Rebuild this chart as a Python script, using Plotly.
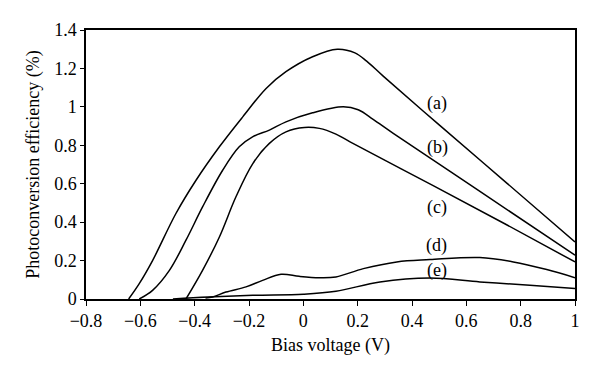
import plotly.graph_objects as go

# Curve data (Bias voltage V, photoconversion efficiency %)
a_x = [-0.643, -0.604, -0.555, -0.469, -0.395, -0.309, -0.223, -0.137, -0.064, 0.034, 0.125, 0.19, 0.233, 0.294, 0.5, 0.75, 1.0]
a_y = [0.0, 0.08, 0.2, 0.445, 0.618, 0.792, 0.948, 1.096, 1.183, 1.261, 1.300, 1.281, 1.238, 1.160, 0.906, 0.602, 0.297]

b_x = [-0.604, -0.555, -0.493, -0.432, -0.371, -0.297, -0.236, -0.187, -0.125, -0.064, 0.034, 0.147, 0.202, 0.257, 0.331, 0.65, 1.0]
b_y = [0.0, 0.045, 0.149, 0.306, 0.479, 0.67, 0.792, 0.844, 0.879, 0.922, 0.969, 1.0, 0.985, 0.935, 0.862, 0.56, 0.228]

c_x = [-0.432, -0.371, -0.309, -0.248, -0.186, -0.125, -0.064, 0.004, 0.059, 0.12, 0.172, 0.478, 0.75, 1.0]
c_y = [0.0, 0.149, 0.323, 0.532, 0.705, 0.81, 0.87, 0.893, 0.888, 0.858, 0.818, 0.59, 0.385, 0.193]

d_x = [-0.36, -0.334, -0.285, -0.211, -0.15, -0.082, -0.015, 0.059, 0.12, 0.221, 0.344, 0.466, 0.65, 0.773, 0.896, 1.0]
d_y = [0.005, 0.01, 0.036, 0.063, 0.097, 0.129, 0.118, 0.111, 0.115, 0.158, 0.193, 0.205, 0.216, 0.193, 0.153, 0.111]

e_x = [-0.48, -0.35, -0.186, 0.0, 0.12, 0.282, 0.466, 0.65, 0.834, 1.0]
e_y = [0.0, 0.01, 0.019, 0.025, 0.04, 0.089, 0.109, 0.089, 0.071, 0.054]

label_text = ["(a)", "(b)", "(c)", "(d)", "(e)"]
label_x = [0.492, 0.495, 0.492, 0.492, 0.492]
label_y = [1.015, 0.79, 0.477, 0.279, 0.149]

FONT = "Liberation Serif"

fig = go.Figure()
for xs, ys in [(a_x, a_y), (b_x, b_y), (c_x, c_y), (d_x, d_y), (e_x, e_y)]:
    fig.add_trace(go.Scatter(x=xs, y=ys, mode="lines",
                             line=dict(color="black", width=1.5, shape="spline", smoothing=1.0),
                             showlegend=False, hoverinfo="skip"))

for t, lx, ly in zip(label_text, label_x, label_y):
    fig.add_annotation(x=lx, y=ly, text=t, showarrow=False,
                       font=dict(family=FONT, size=18, color="black"))

fig.update_layout(
    width=592, height=368,
    margin=dict(l=78, r=25, t=22, b=77),
    paper_bgcolor="white", plot_bgcolor="white",
    font=dict(family=FONT, size=18, color="black"),
    showlegend=False,
)
fig.update_xaxes(range=[-0.8, 1.0], dtick=0.2, tick0=-0.8,
                 showgrid=False, zeroline=False,
                 showline=True, linecolor="black", linewidth=1.5, mirror=True,
                 ticks="outside", ticklen=5, tickwidth=1.2, tickcolor="black",
                 title=dict(text="Bias voltage (V)", standoff=8, font=dict(family=FONT, size=18)),
                 tickfont=dict(family=FONT, size=18))
fig.update_yaxes(range=[0, 1.4], dtick=0.2, tick0=0,
                 showgrid=False, zeroline=False,
                 showline=True, linecolor="black", linewidth=1.5, mirror=True,
                 ticks="outside", ticklen=4, tickwidth=1.2, tickcolor="black",
                 title=dict(text="Photoconversion efficiency (%)", standoff=10, font=dict(family=FONT, size=18)),
                 tickfont=dict(family=FONT, size=18))

fig.write_html("out.html")
